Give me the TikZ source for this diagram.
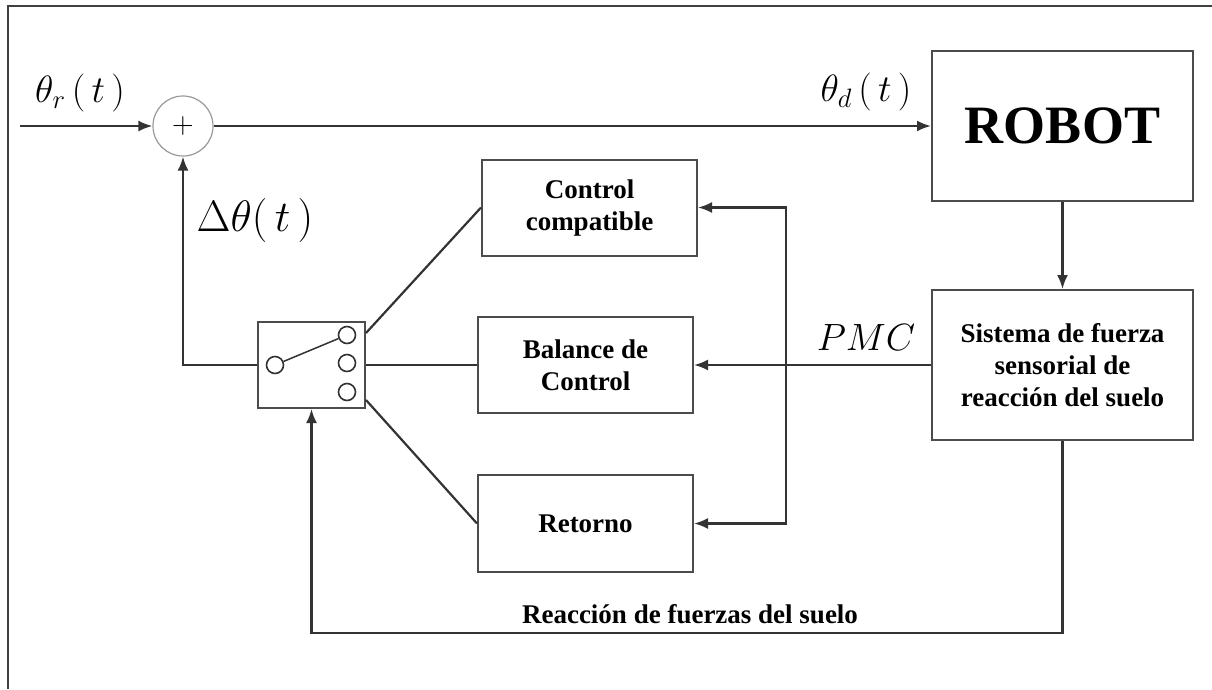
\RequirePackage{fix-cm}
\documentclass[tikz,border=0pt]{standalone}
\usepackage{fontspec}
\setmainfont{Liberation Serif}
\usetikzlibrary{arrows.meta}
\begin{document}
\begin{tikzpicture}[x=1pt,y=-1pt,line width=2.2pt,
	>={Latex[length=14pt,width=11pt]},
	block node/.style={rectangle,draw=black!70,line width=2pt,align=center,inner sep=0pt,font=\fontsize{27}{32}\selectfont\bfseries},
	sum node/.style={circle,draw=black!40,line width=1.2pt,minimum size=60pt,inner sep=0pt},
	pin node/.style={circle,draw=black!80,line width=1.6pt,minimum size=17pt,inner sep=0pt},
	sig node/.style={inner sep=0pt,font=\fontsize{38}{40}\selectfont}
]

	\useasboundingbox (0,0) rectangle (1212,689);
	\draw[black!75] (1212,6) -- (8,6) -- (8,689);

	\node[sum node] (sum) at (183,126) {\fontsize{30}{30}\selectfont$+$};
	\coordinate (in) at (20,126);

	\node[block node,minimum width=261pt,minimum height=150pt,font=\fontsize{54}{60}\selectfont\bfseries] (robot) at (1062.5,126) {ROBOT};
	\node[block node,minimum width=261pt,minimum height=150pt] (sensor) at (1062.5,365) {Sistema de fuerza\\sensorial de\\reacción del suelo};
	\node[block node,minimum width=215pt,minimum height=96pt] (comp) at (589.5,207.5) {Control\\compatible};
	\node[block node,minimum width=215pt,minimum height=96pt] (bal) at (585.5,365) {Balance de\\Control};
	\node[block node,minimum width=215pt,minimum height=97pt] (ret) at (585.5,523.5) {Retorno};

	\node[block node,minimum width=107pt,minimum height=86pt] (sw) at (311.5,365) {};
	\node[pin node] (p0) at (275,365) {};
	\foreach \y/\n in {335/1,363/2,392/3}
		\node[pin node] (p\n) at (347,\y) {};
	\draw[black!80,line width=1.5pt] (p0) -- (p1);

	\node[sig node] (thr) at (80,93) {$\theta_{r}\,(\,t\,)$};
	\node[sig node] (thd) at (866,92) {$\theta_{d}\,(\,t\,)$};
	\node[sig node,font=\fontsize{44}{46}\selectfont] (dth) at (255,220) {$\Delta\theta(\,t\,)$};
	\node[sig node] (pmc) at (866,338) {$PMC$};
	\node[inner sep=0pt,font=\fontsize{27}{32}\selectfont\bfseries] (grf) at (690,614) {Reacción de fuerzas del suelo};

	\coordinate (j) at (786,365);
	\coordinate (low) at (311.5,633);

	\draw[->,black!80] (in) -- (sum);
	\draw[->,black!80] (sum) -- (robot);
	\draw[->,black!80] (robot) -- (sensor);
	\draw[->,black!80] (sensor) -- (bal);
	\draw[->,black!80] (j) |- (comp);
	\draw[->,black!80] (j) |- (ret);
	\draw[black!80] ([yshift=32pt]sw.east) -- (comp.west);
	\draw[black!80] (sw) -- (bal);
	\draw[black!80] ([yshift=-35pt]sw.east) -- (ret.west);
	\draw[->,black!80] (sw.west) -| (sum.south);
	\draw[->,black!80] (sensor.south) |- (low) -- (sw.south);
\end{tikzpicture}
\end{document}
